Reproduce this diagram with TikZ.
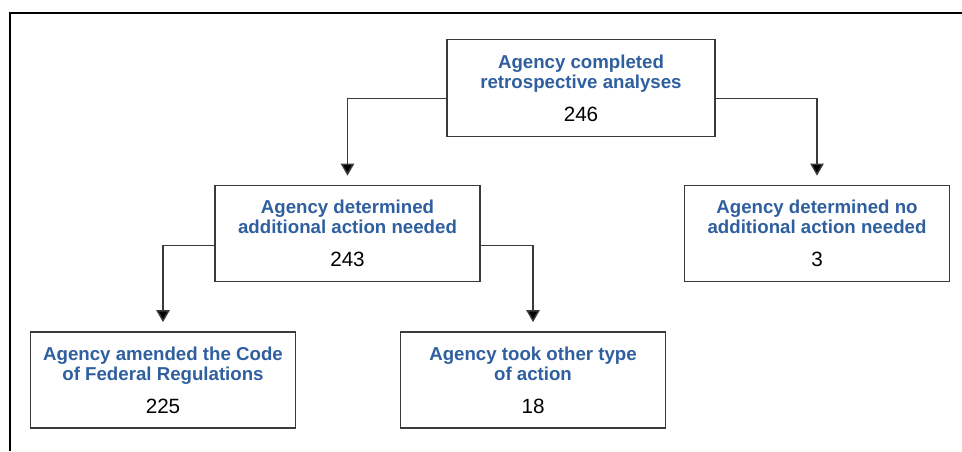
\documentclass[tikz,border=0pt]{standalone}
\usepackage{fontspec}
\setmainfont{Liberation Sans}
\usetikzlibrary{arrows.meta,positioning,calc}
\usepackage{xcolor}
\definecolor{agencyblue}{HTML}{2F5F9F}
\definecolor{boxgray}{HTML}{3A3A3A}

\tikzset{
  stepbox/.style={draw=boxgray, line width=1.3pt, minimum width=198.75pt,
    minimum height=72pt, inner sep=0pt, align=center,
    font=\fontsize{14}{15}\selectfont},
  link/.style={draw=boxgray, line width=1.1pt,
    -{Triangle[width=10pt,length=9pt,fill=black]}, shorten >=6.75pt},
}
\newcommand{\steplines}[3]{\textcolor{agencyblue}{\textbf{#1}}\\
  \textcolor{agencyblue}{\textbf{#2}}\\[9.5pt]{\fontsize{15.5}{15}\selectfont #3}}

\begin{document}
\begin{tikzpicture}[x=0.75pt, y=-0.75pt]
    \useasboundingbox (0,0) rectangle (962,451);
    % Frame
    \draw[line width=1.1pt] (962,13) -- (10,13) -- (10,451);

    % Top
    \node[stepbox, minimum width=201pt, minimum height=72.75pt] (done) at (581,88)
        {\steplines{Agency completed}{retrospective analyses}{246}};

    % Middle
    \node[stepbox] (more) at (347.5,233.5)
        {\steplines{Agency determined}{additional action needed}{243}};
    \node[stepbox] (none) at (817,233.5)
        {\steplines{Agency determined no}{additional action needed}{3}};

    % Bottom
    \node[stepbox] (cfr) at (163,380)
        {\steplines{Agency amended the Code}{of Federal Regulations}{225}};
    \node[stepbox] (other) at (533,380)
        {\steplines{Agency took other type}{of action}{18}};

    \draw[link] ([yshift=-8pt]done.west) -| (more.north);
    \draw[link] ([yshift=-8pt]done.east) -| (none.north);
    \draw[link] ([yshift=-9pt]more.west) -| (cfr.north);
    \draw[link] ([yshift=-9pt]more.east) -| (other.north);
\end{tikzpicture}
\end{document}
